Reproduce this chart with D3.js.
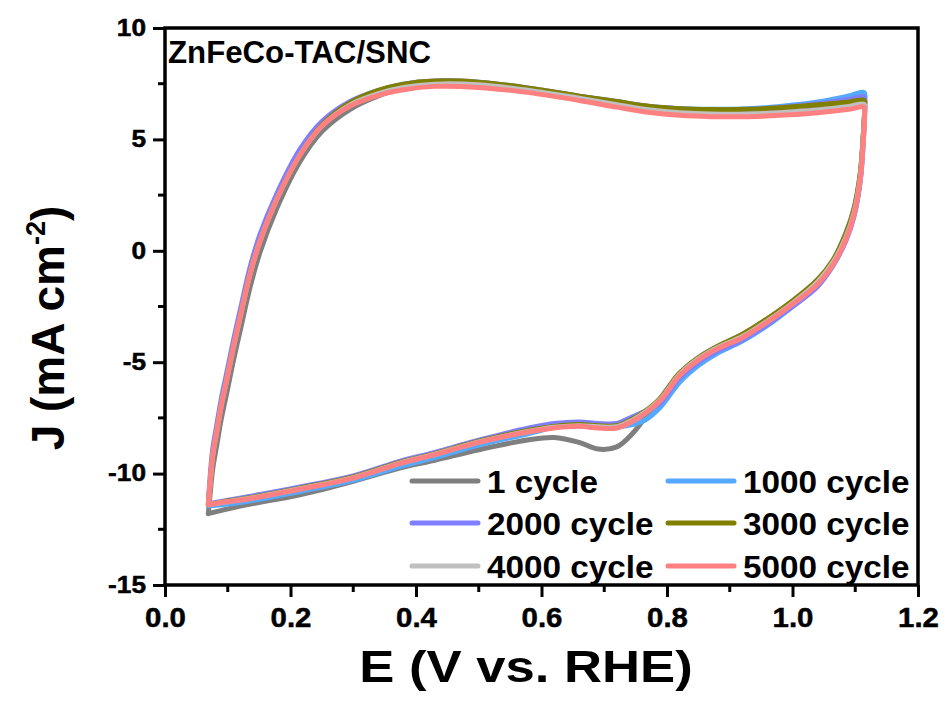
<!DOCTYPE html>
<html>
<head>
<meta charset="utf-8">
<script src="https://cdn.jsdelivr.net/npm/d3@7"></script>
<style>
  body { margin: 0; background: #fff; }
  text { font-family: Arial, "Liberation Sans", sans-serif; font-weight: bold; fill: #000; }
</style>
</head>
<body>
<div id="chart"></div>
<script>
// potential sweep (V vs. RHE): anodic branch, then cathodic branch back to start
const potential = [
  0.069, 0.072, 0.076, 0.082, 0.090, 0.099, 0.110, 0.122, 0.135, 0.151, 0.178, 0.215, 0.250, 0.295,
  0.340, 0.380, 0.430, 0.500, 0.580, 0.660, 0.720, 0.770, 0.820, 0.870, 0.930, 0.980, 1.040, 1.090, 1.114,
  1.115, 1.113, 1.108, 1.098, 1.085, 1.065, 1.040, 1.000, 0.960, 0.920, 0.880, 0.850, 0.820, 0.790,
  0.765, 0.745, 0.720, 0.690, 0.660, 0.620, 0.580, 0.500, 0.430, 0.374, 0.300, 0.215, 0.130, 0.090, 0.069
]

// current density (mA cm-2) per cycle, same order as potential
const cycle1 = [
  -11.8, -10.9, -9.8, -8.8, -7.5, -6.3, -4.8, -3.3, -1.7, -0.1, 1.9, 4.0, 5.35, 6.35,
  6.95, 7.3, 7.48, 7.45, 7.2, 6.85, 6.57, 6.35, 6.22, 6.16, 6.16, 6.22, 6.35, 6.5, 6.6,
  6.4, 5.3, 3.5, 1.9, 0.8, -0.4, -1.3, -2.25, -3.05, -3.75, -4.3, -4.8, -5.5, -6.6,
  -7.5, -8.2, -8.8, -8.9, -8.6, -8.38, -8.48, -8.93, -9.4, -9.75, -10.35, -10.95, -11.4, -11.65, -11.8
]
const cycle1000 = [
  -11.45, -10.4, -9.2, -8.2, -6.9, -5.7, -4.2, -2.7, -1.1, 0.4, 2.3, 4.35, 5.65, 6.6,
  7.15, 7.45, 7.6, 7.55, 7.28, 6.93, 6.68, 6.48, 6.38, 6.35, 6.38, 6.48, 6.68, 6.95, 7.1,
  6.6, 5.1, 3.2, 1.6, 0.5, -0.6, -1.55, -2.5, -3.35, -4.05, -4.6, -5.15, -5.9, -7.0,
  -7.6, -7.8, -7.9, -7.85, -7.8, -7.92, -8.2, -8.72, -9.28, -9.68, -10.3, -10.8, -11.25, -11.4, -11.45
]
const cycle2000 = [
  -11.35, -10.1, -8.9, -7.9, -6.6, -5.4, -3.9, -2.4, -0.8, 0.7, 2.55, 4.55, 5.8, 6.7,
  7.2, 7.48, 7.62, 7.57, 7.3, 6.94, 6.7, 6.49, 6.38, 6.33, 6.35, 6.43, 6.6, 6.8, 6.9,
  6.5, 5.0, 3.15, 1.55, 0.45, -0.65, -1.6, -2.5, -3.3, -4.0, -4.5, -5.0, -5.7, -6.8,
  -7.2, -7.45, -7.75, -7.75, -7.68, -7.75, -7.95, -8.5, -9.05, -9.45, -10.1, -10.6, -11.05, -11.25, -11.35
]
const cycle3000 = [
  -11.4, -10.4, -9.2, -8.2, -6.9, -5.7, -4.2, -2.7, -1.1, 0.4, 2.3, 4.3, 5.65, 6.65,
  7.2, 7.48, 7.62, 7.57, 7.3, 6.94, 6.7, 6.49, 6.38, 6.34, 6.35, 6.42, 6.55, 6.68, 6.75,
  6.4, 5.3, 3.45, 1.85, 0.75, -0.4, -1.3, -2.25, -3.05, -3.75, -4.3, -4.8, -5.5, -6.6,
  -7.2, -7.55, -7.85, -7.85, -7.8, -7.88, -8.05, -8.55, -9.1, -9.5, -10.15, -10.65, -11.1, -11.28, -11.4
]
const cycle4000 = [
  -11.4, -10.4, -9.2, -8.2, -6.9, -5.7, -4.2, -2.7, -1.1, 0.4, 2.3, 4.3, 5.6, 6.55,
  7.05, 7.33, 7.48, 7.45, 7.2, 6.85, 6.56, 6.33, 6.2, 6.14, 6.14, 6.2, 6.32, 6.48, 6.58,
  6.3, 5.1, 3.3, 1.7, 0.6, -0.5, -1.4, -2.35, -3.15, -3.85, -4.35, -4.85, -5.55, -6.65,
  -7.25, -7.6, -7.9, -7.9, -7.85, -7.92, -8.1, -8.58, -9.13, -9.53, -10.18, -10.68, -11.13, -11.3, -11.4
]
const cycle5000 = [
  -11.4, -10.4, -9.2, -8.2, -6.9, -5.7, -4.2, -2.7, -1.1, 0.4, 2.3, 4.3, 5.6, 6.5,
  6.98, 7.23, 7.38, 7.33, 7.1, 6.75, 6.45, 6.22, 6.08, 6.02, 6.02, 6.08, 6.2, 6.35, 6.45,
  6.2, 5.0, 3.2, 1.6, 0.5, -0.6, -1.5, -2.4, -3.2, -3.9, -4.4, -4.9, -5.6, -6.7,
  -7.3, -7.65, -7.95, -7.95, -7.88, -7.95, -8.12, -8.6, -9.15, -9.55, -10.2, -10.7, -11.15, -11.3, -11.4
]

const seriesNames = ["1 cycle", "1000 cycle", "2000 cycle", "3000 cycle", "4000 cycle", "5000 cycle"]
const seriesValues = [cycle1, cycle1000, cycle2000, cycle3000, cycle4000, cycle5000]
const seriesColors = ["#7f7f7f", "#55aaff", "#7f7fff", "#808000", "#c0c0c0", "#ff8080"]

const xTicks = [0.0, 0.2, 0.4, 0.6, 0.8, 1.0, 1.2]
const yTicks = [-15, -10, -5, 0, 5, 10]

const width = 944
const height = 704
const margin = ({top: 28, right: 26, bottom: 119, left: 165})

const svg = d3.select("#chart").append("svg").attr("width", width).attr("height", height)

const xscale = d3.scaleLinear()
  .domain([0, 1.2])
  .range([margin.left, width - margin.right])

const yscale = d3.scaleLinear()
  .domain([-15, 10])
  .range([height - margin.bottom, margin.top])

// widen text a bit, the original figure was stretched sideways
const stretch = (sel, f) => sel.each(function() {
  const w = this.getComputedTextLength()
  d3.select(this).attr("textLength", w * f).attr("lengthAdjust", "spacingAndGlyphs")
})

// curves
const line = d3.line()
  .curve(d3.curveCatmullRom.alpha(0.5))
  .x(d => xscale(d[0]))
  .y(d => yscale(d[1]))

svg.append("g")
  .attr("fill", "none")
  .attr("stroke-width", 5)
  .attr("stroke-linejoin", "round")
  .attr("stroke-linecap", "round")
  .selectAll("path")
  .data(seriesValues)
  .join("path")
  .attr("stroke", (d, i) => seriesColors[i])
  .attr("d", vals => line(vals.map((v, j) => [potential[j], v])))

// frame
svg.append("rect")
  .attr("x", xscale(0)).attr("y", yscale(10))
  .attr("width", xscale(1.2) - xscale(0))
  .attr("height", yscale(-15) - yscale(10))
  .attr("fill", "none").attr("stroke", "#000").attr("stroke-width", 3.5)

// minor ticks
const minorX = d3.range(0.1, 1.2, 0.2)
const minorY = d3.range(-12.5, 10, 5)

const xAxis = g => g
  .attr("transform", `translate(0, ${height - margin.bottom})`)
  .call(d3.axisBottom(xscale).tickValues(xTicks).tickFormat(d3.format(".1f")).tickSize(12).tickPadding(9))

const yAxis = g => g
  .attr("transform", `translate(${margin.left},0)`)
  .call(d3.axisLeft(yscale).tickValues(yTicks).tickFormat(d => String(d)).tickSize(12).tickPadding(7))

const gx = svg.append("g").call(xAxis)
const gy = svg.append("g").call(yAxis)

gx.append("g").selectAll("line").data(minorX).join("line")
  .attr("x1", d => xscale(d)).attr("x2", d => xscale(d))
  .attr("y1", 0).attr("y2", 7)
gy.append("g").selectAll("line").data(minorY).join("line")
  .attr("y1", d => yscale(d)).attr("y2", d => yscale(d))
  .attr("x1", 0).attr("x2", -7)

for (const g of [gx, gy]) {
  g.select(".domain").remove()
  g.selectAll("line").attr("stroke", "#000").attr("stroke-width", 3)
  g.selectAll("text").attr("font-family", null).attr("fill", "#000")
    .attr("stroke", "#000").attr("stroke-width", 0.5)
}
gx.selectAll(".tick text").attr("font-size", 28).attr("dy", "0.76em").call(stretch, 1.05)
gy.selectAll(".tick text").attr("font-size", 23).call(stretch, 1.14)

// axis titles
svg.append("text")
  .attr("x", 526)
  .attr("y", 682)
  .attr("text-anchor", "middle")
  .attr("font-size", 45)
  .text("E (V vs. RHE)")
  .call(stretch, 1.17)

const ytitle = svg.append("text")
  .attr("transform", `translate(64, 328) rotate(-90)`)
  .attr("text-anchor", "middle")
  .attr("font-size", 46)
ytitle.append("tspan").text("J (mA cm")
ytitle.append("tspan").attr("font-size", 27).attr("dy", -19).text("-2")
ytitle.append("tspan").attr("dy", 19).text(")")

// panel label
svg.append("text")
  .attr("x", 168).attr("y", 63)
  .attr("font-size", 31)
  .text("ZnFeCo-TAC/SNC")
  .attr("textLength", 263).attr("lengthAdjust", "spacingAndGlyphs")

// legend
const legendX = [412, 668]
const legendY = [481, 523, 566]
const legend = svg.append("g")
  .selectAll("g")
  .data(seriesNames)
  .join("g")
  .attr("transform", (d, i) => `translate(${legendX[i % 2]}, ${legendY[Math.floor(i / 2)]})`)

legend.append("line")
  .attr("x1", 0).attr("x2", 66)
  .attr("stroke", (d, i) => seriesColors[i])
  .attr("stroke-width", 5)
  .attr("stroke-linecap", "round")

legend.append("text")
  .attr("x", 75)
  .attr("dy", "0.36em")
  .attr("font-size", 32)
  .text(d => d)
  .call(stretch, 1.04)
</script>
</body>
</html>
